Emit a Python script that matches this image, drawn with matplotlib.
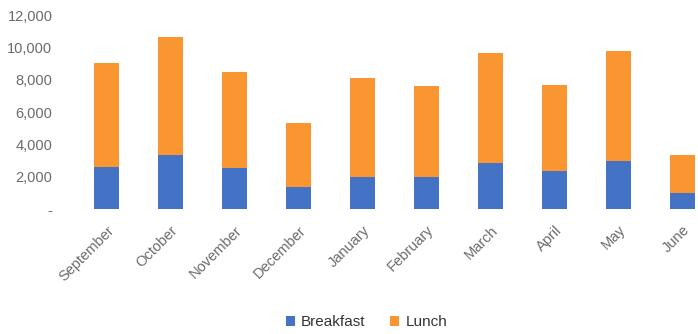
import matplotlib.pyplot as plt
from matplotlib.ticker import FuncFormatter
import numpy as np

plt.rcParams['font.family'] = ['Liberation Sans', 'DejaVu Sans']

months = ['September', 'October', 'November', 'December', 'January',
          'February', 'March', 'April', 'May', 'June']
breakfast = [2600, 3350, 2550, 1350, 2000, 2000, 2850, 2350, 3000, 1000]
lunch = [6450, 7300, 5950, 3950, 6100, 5600, 6800, 5350, 6800, 2350]

blue = '#4472C4'
orange = '#FA9632'
grey = '#6b6b6b'

fig = plt.figure(figsize=(6.98, 3.34), dpi=100)
ax = fig.add_axes([0.107, 0.374, 0.917, 0.581])

x = np.arange(len(months))
ax.bar(x, breakfast, width=0.39, color=blue, label='Breakfast')
ax.bar(x, lunch, width=0.39, bottom=breakfast, color=orange, label='Lunch')

ax.set_xlim(-0.5, len(months) - 0.5)
ax.set_ylim(0, 12000)
ax.set_yticks(range(0, 12001, 2000))
ax.yaxis.set_major_formatter(FuncFormatter(lambda v, p: '-' if v == 0 else f'{int(v):,}'))

ax.set_xticks(x)
ax.set_xticklabels(months, rotation=45, ha='right', rotation_mode='anchor')

for s in ax.spines.values():
    s.set_visible(False)
ax.tick_params(axis='both', length=0, labelsize=10.5, colors=grey)
ax.tick_params(axis='x', pad=10)
ax.tick_params(axis='y', pad=16)

fig.legend(loc='center', bbox_to_anchor=(0.525, 0.035), ncol=2, frameon=False,
           fontsize=11, handlelength=0.6, handleheight=0.6, handletextpad=0.4,
           columnspacing=1.6, labelcolor='#333333')

fig.savefig('out.png', dpi=100)
